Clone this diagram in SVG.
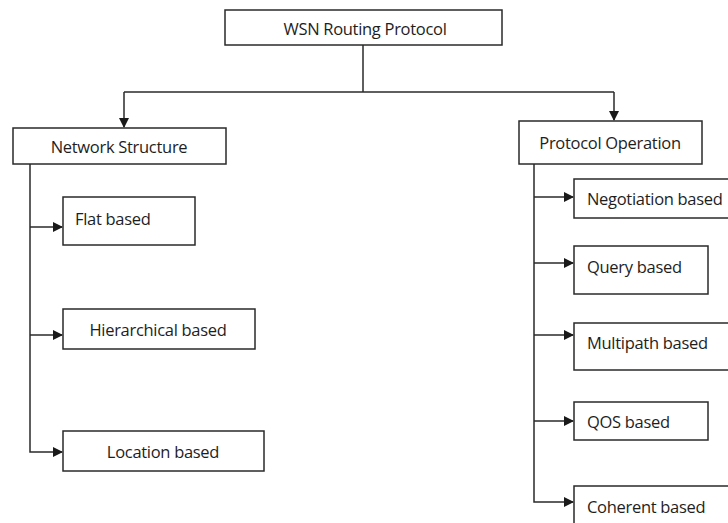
<svg xmlns="http://www.w3.org/2000/svg" width="728" height="523" viewBox="0 0 728 523">
<style>
.box{fill:#fff;stroke:#2a2a2a;stroke-width:1.5}
.t{font-family:"Open Sans","Liberation Sans",sans-serif;font-size:16.5px;fill:#1e1e1e;letter-spacing:-0.3px}
.c{fill:none;stroke:#2a2a2a;stroke-width:1.5}
</style>
<defs>
<marker id="ah" markerWidth="10" markerHeight="10" refX="9" refY="5" orient="auto" markerUnits="userSpaceOnUse">
<path d="M0,0 L10,5 L0,10 Z" fill="#1a1a1a"/>
</marker>
</defs>
<rect width="728" height="523" fill="#fff"/>
<g id="connectors">
<path class="c" d="M363,45 V92"/>
<path class="c" d="M124,92 H614"/>
<path class="c" d="M124,92 V127" marker-end="url(#ah)"/>
<path class="c" d="M614,92 V120" marker-end="url(#ah)"/>
<path class="c" d="M30,164 V452 H62" marker-end="url(#ah)"/>
<path class="c" d="M30,227 H62" marker-end="url(#ah)"/>
<path class="c" d="M30,335 H62" marker-end="url(#ah)"/>
<path class="c" d="M534,164 V502 H573" marker-end="url(#ah)"/>
<path class="c" d="M534,197 H573" marker-end="url(#ah)"/>
<path class="c" d="M534,263 H573" marker-end="url(#ah)"/>
<path class="c" d="M534,335 H573" marker-end="url(#ah)"/>
<path class="c" d="M534,421 H573" marker-end="url(#ah)"/>
</g>
<g id="root"><rect class="box" x="225" y="10" width="277" height="35"/><text class="t" x="365" y="35" text-anchor="middle">WSN Routing Protocol</text></g>
<g id="network-structure"><rect class="box" x="13" y="128" width="213" height="36"/><text class="t" x="119" y="153" text-anchor="middle">Network Structure</text></g>
<g id="flat"><rect class="box" x="63" y="197" width="132" height="48"/><text class="t" x="75" y="225">Flat based</text></g>
<g id="hierarchical"><rect class="box" x="63" y="309" width="192" height="40"/><text class="t" x="158" y="336" text-anchor="middle">Hierarchical based</text></g>
<g id="location"><rect class="box" x="63" y="431" width="201" height="40"/><text class="t" x="163" y="458" text-anchor="middle">Location based</text></g>
<g id="protocol-operation"><rect class="box" x="519" y="121" width="183" height="43"/><text class="t" x="610" y="149" text-anchor="middle">Protocol Operation</text></g>
<g id="negotiation"><rect class="box" x="574" y="179" width="160" height="39"/><text class="t" x="587" y="205">Negotiation based</text></g>
<g id="query"><rect class="box" x="574" y="246" width="134" height="48"/><text class="t" x="587" y="273">Query based</text></g>
<g id="multipath"><rect class="box" x="574" y="323" width="160" height="47"/><text class="t" x="587" y="349">Multipath based</text></g>
<g id="qos"><rect class="box" x="574" y="402" width="134" height="38"/><text class="t" x="587" y="428">QOS based</text></g>
<g id="coherent"><rect class="box" x="574" y="486" width="160" height="45"/><text class="t" x="587" y="513">Coherent based</text></g>
</svg>
